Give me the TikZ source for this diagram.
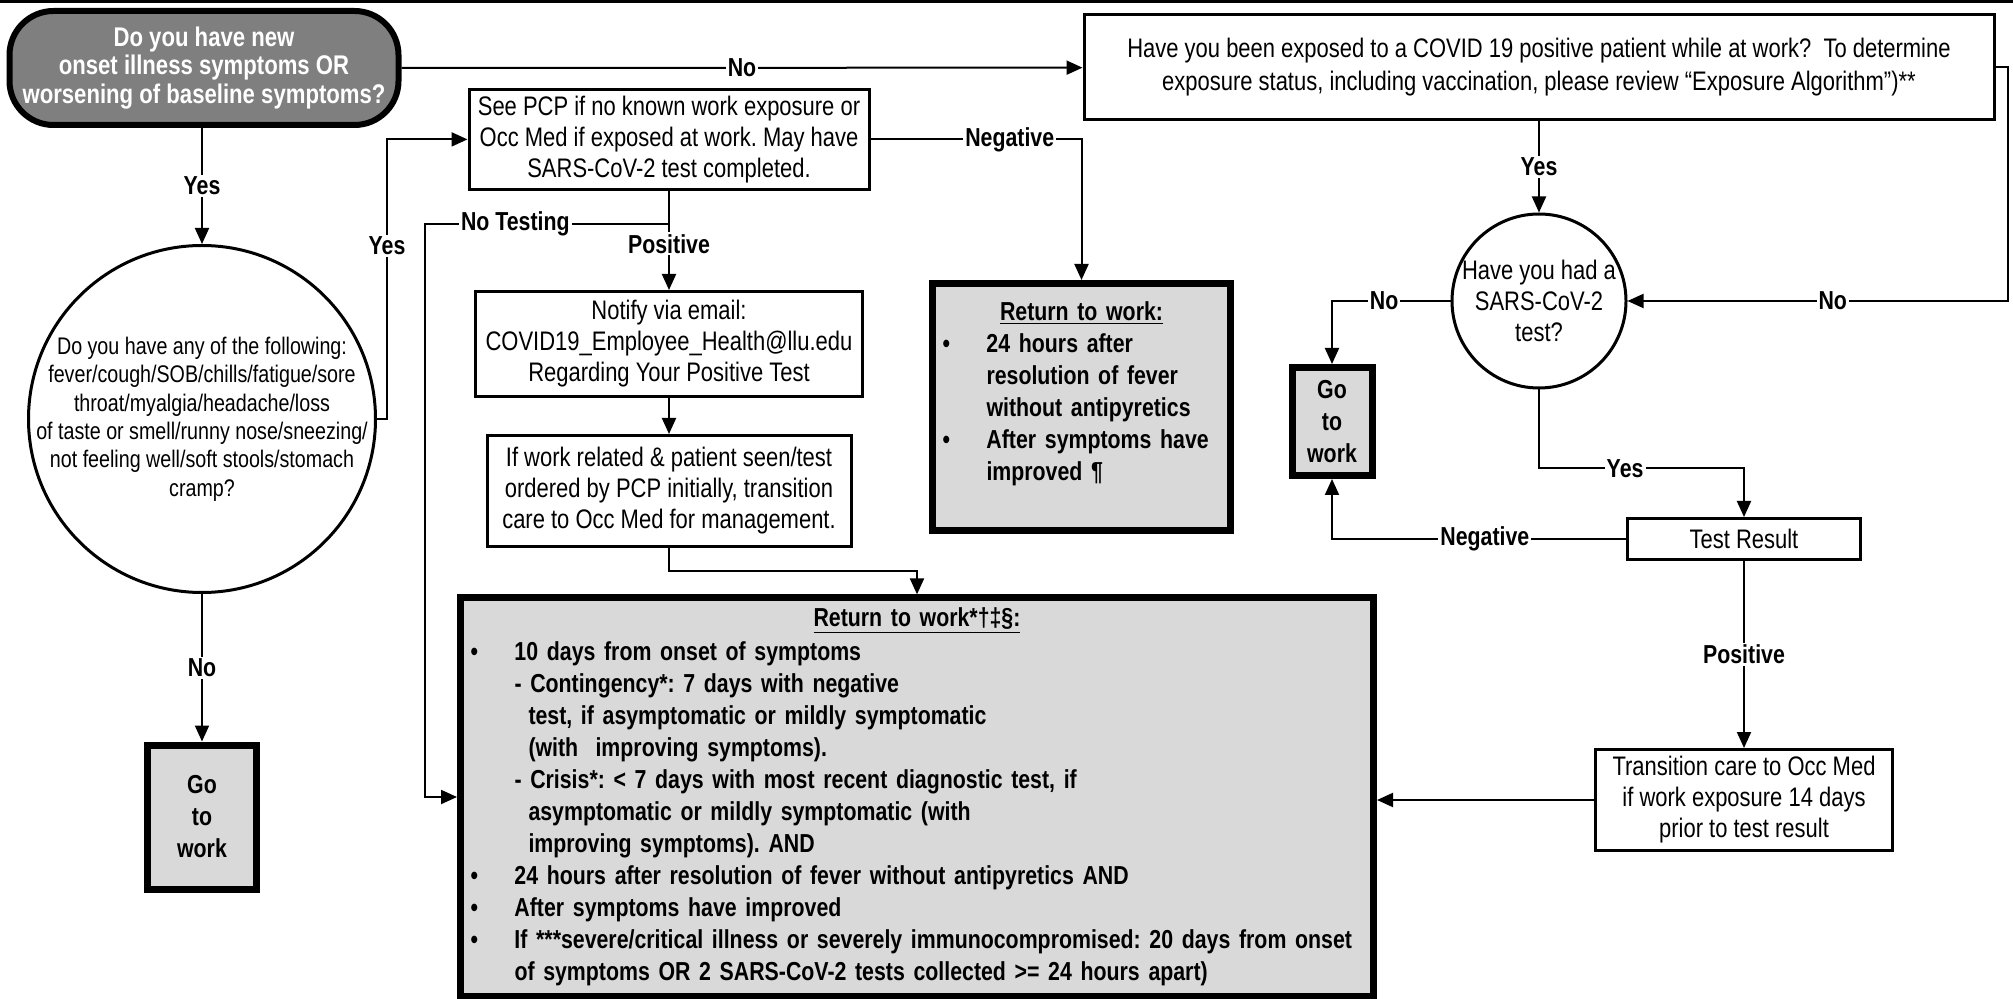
\documentclass[tikz,border=0pt]{standalone}
\usepackage{fontspec}
\setmainfont{Liberation Sans}[FakeStretch=0.82]
\usetikzlibrary{arrows.meta}
\frenchspacing

\definecolor{stopgray}{HTML}{D9D9D9}
\definecolor{startgray}{HTML}{7F7F7F}

\newcommand{\rtwbul}{\makebox[22pt][l]{\textbullet}}
\newcommand{\rtwind}{\hspace*{22pt}}
\newcommand{\rtwsub}{\hspace*{29pt}}

\tikzset{
  startbox/.style={draw, line width=3pt, rounded corners=22pt, fill=startgray, text=white,
    align=center, inner sep=0pt, font=\bfseries\fontsize{13.5}{14.3}\selectfont},
  infobox/.style={draw, line width=1.5pt, align=center, inner sep=2pt,
    font=\fontsize{13.4}{15.5}\selectfont},
  question/.style={draw, circle, line width=1.5pt, align=center, inner sep=-12pt},
  stopbox/.style={draw, line width=3.5pt, fill=stopgray, align=center, inner sep=5pt,
    font=\bfseries\fontsize{13}{16}\selectfont},
  answer/.style={fill=white, inner sep=1pt, font=\bfseries\fontsize{13}{15}\selectfont}
}

\begin{document}
\begin{tikzpicture}[x=0.5pt, y=-0.5pt, line width=1pt, >={Triangle[length=8pt,width=7pt]}]
	\useasboundingbox (0,0) rectangle (2013,999);
	\draw [line width=1.5pt] (0,1.5) -- (2013,1.5);	% rule along the top

	%% Left column -- the symptom questions
	\node at (204,68) [startbox, minimum width=194.5pt, minimum height=57pt] (start) {Do you have new\\ onset illness symptoms OR\\ worsening of baseline symptoms?};
	\node at (202,419) [question, minimum size=173.5pt, font=\fontsize{12}{14.2}\selectfont] (symptoms) {Do you have any of the following:\\ fever/cough/SOB/chills/fatigue/sore\\ throat/myalgia/headache/loss\\ of taste or smell/runny nose/sneezing/\\ not feeling well/soft stools/stomach\\ cramp?};
	\node at (202,817) [stopbox, minimum width=54.5pt, minimum height=72pt] (work1) {Go\\ to\\ work};	% first way out

	%% Middle column -- PCP / Occ Med
	\node at (669,139.4) [infobox, minimum width=200pt, minimum height=50pt] (pcp) {See PCP if no known work exposure or\\ Occ Med if exposed at work. May have\\ SARS-CoV-2 test completed.};
	\node at (669,344) [infobox, minimum width=193.5pt, minimum height=52.5pt] (notify) {Notify via email:\\ COVID19\_Employee\_Health@llu.edu\\ Regarding Your Positive Test};
	\node at (669,491) [infobox, minimum width=182pt, minimum height=55.5pt] (ifwork) {If work related \& patient seen/test\\ ordered by PCP initially, transition\\ care to Occ Med for management.};
	\node at (1081.5,407) [stopbox, minimum width=149pt, minimum height=123.5pt, text width=139pt, align=left] (ret) {\makebox[\linewidth]{\underline{Return to work:}}\\
		\rtwbul 24 hours after\\ \rtwind resolution of fever\\ \rtwind without antipyretics\\
		\rtwbul After symptoms have\\ \rtwind improved ¶\\ \mbox{}};
	\node at (917,797) [stopbox, minimum height=198.5pt, text width=446.5pt, align=left] (rtw) {\makebox[\linewidth]{\underline{Return to work*†‡§:}}\\[1pt]
		\rtwbul 10 days from onset of symptoms\\
		\rtwind - Contingency*: 7 days with negative\\
		\rtwsub test, if asymptomatic or mildly symptomatic\\
		\rtwsub (with~ improving symptoms).\\
		\rtwind - Crisis*: < 7 days with most recent diagnostic test, if\\
		\rtwsub asymptomatic or mildly symptomatic (with\\
		\rtwsub improving symptoms). AND\\
		\rtwbul 24 hours after resolution of fever without antipyretics AND\\
		\rtwbul After symptoms have improved\\
		\rtwbul \mbox{If ***severe/critical illness or severely immunocompromised: 20 days from onset}\\
		\rtwind of symptoms OR 2 SARS-CoV-2 tests collected >= 24 hours apart)};

	%% Right column -- exposure at work
	\node at (1539,67.5) [infobox, minimum width=455pt, minimum height=52.5pt, font=\fontsize{13.4}{16.5}\selectfont] (expo) {Have you been exposed to a COVID 19 positive patient while at work?\ \ To determine\\ exposure status, including vaccination, please review “Exposure Algorithm”)**};
	\node at (1539,301) [question, minimum size=87pt, font=\fontsize{13.4}{15.5}\selectfont] (hadtest) {Have you had a\\ SARS-CoV-2\\ test?};
	\node at (1332,421.5) [stopbox, minimum width=40pt, minimum height=54pt] (work2) {Go\\ to\\ work};	% second way out
	\node at (1744,539) [infobox, minimum width=116.5pt, minimum height=20.5pt] (result) {Test Result};
	\node at (1744,800) [infobox, minimum width=148.5pt, minimum height=50.5pt] (trans) {Transition care to Occ Med\\ if work exposure 14 days\\ prior to test result};

	%% Connectors
	\draw [->] (start) -- node[answer] {No} (expo);
	\draw [->] (start.south -| symptoms.north) -- node[answer] {Yes} (symptoms.north);
	\draw [->] (symptoms) -- node[answer] {No} (work1);
	\draw [->] (symptoms.east) -- ++(10,0) |- node[answer, pos=0.31] {Yes} (pcp.west);
	\draw [->] (pcp.east) -| node[answer, pos=0.33] {Negative} (ret.north);
	\draw (pcp.south) -- ++(0,33) coordinate (split);	% where the test splits
	\draw [->] (split) -- node[answer, pos=0.63] {No Testing} ++(-244,0) |- (rtw.west);
	\draw [->] (split) -- node[answer, pos=0.3] {Positive} (notify.north);
	\draw [->] (notify) -- (ifwork);
	\draw [->] (ifwork.south) -- ++(0,23) -| (rtw.north);
	\draw [->] (expo) -- node[answer] {Yes} (hadtest);
	\draw [->] (expo.east) -- ++(12,0) |- node[answer, pos=0.73] {No} (hadtest.east);
	\draw [->] (hadtest.west) -| node[answer, pos=0.28] {No} (work2.north);
	\draw [->] (hadtest.south) -- ++(0,79) -| node[answer, pos=0.21] {Yes} (result.north);
	\draw [->] (result.west) -| node[answer, pos=0.24] {Negative} (work2.south);
	\draw [->] (result) -- node[answer] {Positive} (trans);
	\draw [->] (trans.west) -- (trans.west -| rtw.east);
\end{tikzpicture}
\end{document}
